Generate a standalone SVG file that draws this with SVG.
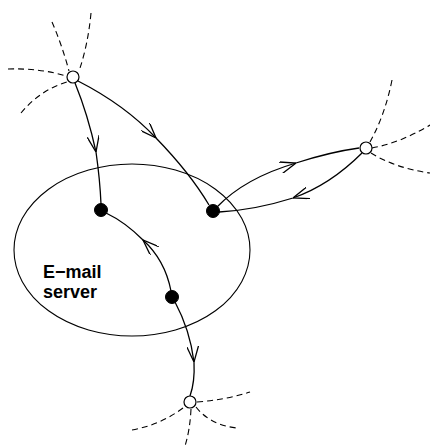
<svg xmlns="http://www.w3.org/2000/svg" width="430" height="446" viewBox="0 0 430 446">
<style>
.edge{fill:none;stroke:#000;stroke-width:1.3}
.dash{fill:none;stroke:#000;stroke-width:1.1;stroke-dasharray:6,4}
.open{fill:#fff;stroke:#000;stroke-width:1.2}
.filled{fill:#000;stroke:#000}
.label{font-family:"Liberation Sans",Arial,sans-serif;font-weight:bold;font-size:18px;fill:#000}
</style>
<defs>
<marker id="v" viewBox="0 0 16 12" refX="16" refY="6" markerWidth="16" markerHeight="12" markerUnits="userSpaceOnUse" orient="auto">
<path d="M0,0 L16,6 L0,12" fill="none" stroke="#000" stroke-width="1.3"/>
</marker>
</defs>
<rect width="430" height="446" fill="#fff"/>
<g id="server">
<ellipse cx="132" cy="250" rx="118" ry="86" fill="none" stroke="#000" stroke-width="1.1"/>
<text class="label" x="43" y="278">E−mail</text>
<text class="label" x="43" y="298">server</text>
</g>
<g id="dashes">
<path class="dash" d="M91,13 Q88,45 79,71"/>
<path class="dash" d="M52,22 Q62,45 69,71"/>
<path class="dash" d="M8,69 Q40,68 66,76"/>
<path class="dash" d="M21,113 Q40,90 67,82"/>
<path class="dash" d="M392,80 Q385,115 370,142"/>
<path class="dash" d="M372,148 Q400,143 430,125"/>
<path class="dash" d="M371,153 Q395,168 430,173"/>
<path class="dash" d="M197,402 Q225,400 250,392"/>
<path class="dash" d="M183,408 Q160,425 132,430"/>
<path class="dash" d="M191,409 Q190,430 185,446"/>
<path class="dash" d="M196,407 Q210,425 237,428"/>
</g>
<g id="connectors">
<path class="edge" marker-mid="url(#v)" d="M75,83 Q88,115 96,152 Q100,180 101,204"/>
<path class="edge" marker-mid="url(#v)" d="M78,81 Q125,105 156,138 Q190,173 209,205"/>
<path class="edge" marker-mid="url(#v)" d="M217,207 Q245,178 296,163 Q330,152 359,148"/>
<path class="edge" marker-mid="url(#v)" d="M362,153 Q330,185 293,198 Q255,210 219,212"/>
<path class="edge" marker-mid="url(#v)" d="M171,291 Q165,260 143,240 Q125,222 106,213"/>
<path class="edge" marker-mid="url(#v)" d="M175,302 Q190,330 194,362 Q195,382 190,396"/>
</g>
<g id="n-topleft"><circle class="open" cx="73" cy="77" r="6"/></g>
<g id="n-right"><circle class="open" cx="366" cy="148" r="6"/></g>
<g id="n-bottom"><circle class="open" cx="190" cy="402" r="6"/></g>
<g id="n-a"><circle class="filled" cx="101" cy="210" r="6.5"/></g>
<g id="n-b"><circle class="filled" cx="213" cy="211" r="6.5"/></g>
<g id="n-c"><circle class="filled" cx="172" cy="297" r="6.5"/></g>
</svg>
